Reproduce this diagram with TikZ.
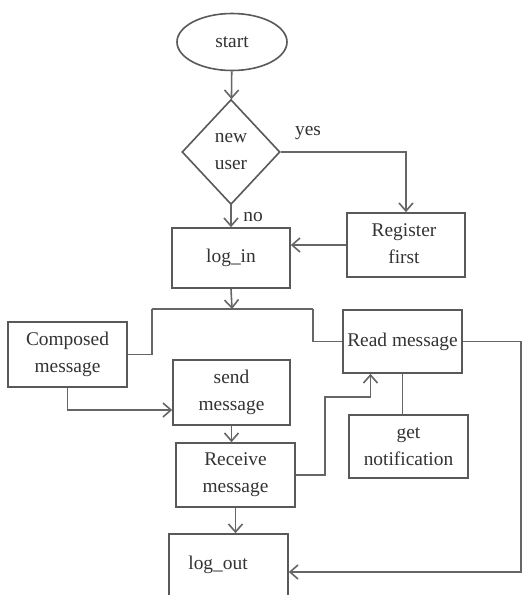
\documentclass[tikz,border=0pt]{standalone}
\usepackage{fontspec}
\setmainfont{Liberation Serif}
\usepackage{tikz}
\usetikzlibrary{shapes.geometric,arrows.meta}

\begin{document}
\begin{tikzpicture}[x=0.5pt,y=-0.5pt,
	every node/.style={font=\fontsize{9.7}{13.5}\selectfont,text=black!80,align=center},
	box/.style={draw=black!65,line width=0.8pt,inner sep=0pt},
	flow/.style={draw=black!60,line width=0.8pt,-{Straight Barb[length=4pt,width=7pt]}},
	link/.style={draw=black!60,line width=0.8pt}]

%
\useasboundingbox (0,0) rectangle (529,595);
\clip (0,0) rectangle (529,595);
\fill[white] (0,0) rectangle (529,595);

\node[box,ellipse,minimum width=55pt,minimum height=28.5pt] (start) at (232,42) {start};
\node[box,diamond,minimum width=49pt,minimum height=52.5pt] (dec) at (231,152) {new\\user};
\node[box,minimum width=59pt,minimum height=30pt] (login) at (231,258) {log\_in};
\node[box,minimum width=59pt,minimum height=32pt] (reg) at (406,245) {};
\node (regtxt) at (404,244) {Register\\first};
\node[box,minimum width=59.5pt,minimum height=32.5pt] (comp) at (67.5,354.5) {Composed\\message};
\node[box,minimum width=58.5pt,minimum height=32.5pt] (send) at (231.5,392.5) {send\\message};
\node[box,minimum width=59.5pt,minimum height=32pt] (recv) at (235.5,475) {Receive\\message};
\node[box,minimum width=59.5pt,minimum height=31.5pt] (read) at (402.5,341.5) {Read message};
\node[box,minimum width=59.5pt,minimum height=31.5pt] (note) at (408.5,446.5) {get\\notification};
\node[box,minimum width=59.5pt,minimum height=38pt] (logout) at (228.5,572) {};
\node (outtxt) at (218,565) {log\_out};

\node (yes) at (308,133) {yes};
\node (no) at (253,217) {no};

\coordinate (split) at (232,309);
\coordinate (jl) at (152,309);
\coordinate (jr) at (313,309);
\coordinate (rbend) at (325,397);
\coordinate (rc) at (521,572);

\draw[flow] (start) -- (dec);
\draw[flow] (dec.east) -| (reg.north);
\draw[flow] (dec.south) -- (login.north);
\draw[flow] (reg.west) -- (reg.west -| login.east);
\draw[flow] (login.south) -- (split);
\draw[link] (jl) -- (jr);
\draw[link] (jl) |- (comp.east);
\draw[link] (jr) |- (read.west);
\draw[flow] (comp.south) |- ([yshift=-8.75pt]send.west);
\draw[flow] (send.south) -- (send.south |- recv.north);
\draw[flow] (recv.east) -| (rbend) -| ([xshift=-16pt]read.south);
\draw[link] (read.south) -- (read.south |- note.north);
\draw[flow] (recv.south) -- (recv.south |- logout.north);
\draw[flow] (read.east) -| (rc) -- (rc -| logout.east);

\end{tikzpicture}
\end{document}
